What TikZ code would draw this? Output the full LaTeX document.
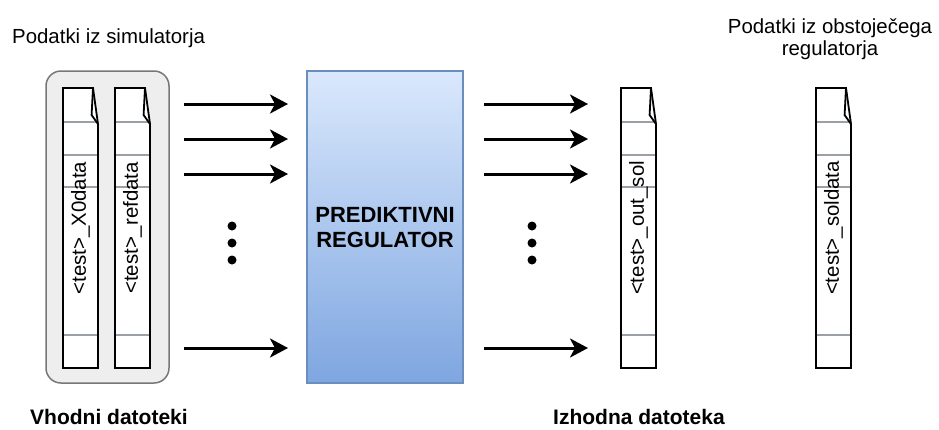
\documentclass[tikz,border=0pt]{standalone}
\usepackage{fontspec}
\setmainfont{Liberation Sans}
\usetikzlibrary{arrows.meta}

\definecolor{grpfill}{HTML}{EEEEEE}
\definecolor{grpline}{HTML}{777777}
\definecolor{regtop}{HTML}{DAE8FC}
\definecolor{regbot}{HTML}{7EA6E0}
\definecolor{regline}{HTML}{6C8EBF}
\definecolor{sepline}{HTML}{9AA0A6}

\tikzset{
  plain/.style={font=\fontsize{20.4}{22}\selectfont, inner sep=0pt},
  heading/.style={font=\bfseries\fontsize{21}{24}\selectfont, inner sep=0pt},
  flow/.style={line width=3pt, -{Stealth[length=18pt,width=19pt,inset=5pt]}},
  dot/.style={circle, fill=black, inner sep=0pt, minimum size=9pt},
  filestroke/.style={draw=black, line width=1.8pt, line join=miter},
  sep/.style={draw=sepline, line width=1.3pt},
  pics/datafile/.style={code={
    % sheet outline with the curled top-right corner
    \fill[white] (0,0) -- (30,0) -- (35,36) -- (35,280) -- (0,280) -- cycle;
    \foreach \yy in {34,67,99,247} \draw[sep] (0,\yy) -- (35,\yy);
    \draw[filestroke] (0,0) -- (30,0) -- (35,36) -- (35,280) -- (0,280) -- cycle;
    \draw[filestroke] (30,0) -- (28.6,27) -- (35,36);
    \node[plain, rotate=90] (lbl) at (17.5,140) {#1};
  }}
}

\begin{document}
\begin{tikzpicture}[x=1pt, y=-1pt]
  \useasboundingbox (0,0) rectangle (939,429);

  % group of input files
  \draw[fill=grpfill, draw=grpline, line width=1.5pt, rounded corners=15pt]
    (46,71) rectangle (169,383);
  \pic (x0) at (63,88) {datafile={<test>\_X0data}};
  \pic (ref) at (115,88) {datafile={<test>\_refdata}};

  % controller block
  \node[draw=regline, line width=1.5pt, top color=regtop, bottom color=regbot,
        minimum width=156pt, minimum height=312pt, inner sep=0pt]
        (reg) at (385,227) {};
  \node[font=\bfseries\fontsize{22}{25}\selectfont, align=center, inner sep=0pt]
        (regtxt) at (385,228) {PREDIKTIVNI\\REGULATOR};

  % output files
  \pic (out) at (621,88) {datafile={<test>\_out\_sol}};
  \pic (sol) at (816,88) {datafile={<test>\_soldata}};

  % arrow end points
  \foreach \i/\yy in {1/104,2/139,3/174,4/348} {
    \coordinate (ia\i) at (184,\yy);
    \coordinate (ib\i) at (288,\yy);
    \coordinate (oa\i) at (484,\yy);
    \coordinate (ob\i) at (588,\yy);
    \draw[flow] (ia\i) -- (ib\i);
    \draw[flow] (oa\i) -- (ob\i);
  }

  % ellipsis dots
  \foreach \i/\yy in {1/226,2/243,3/260} {
    \node[dot] (ld\i) at (232,\yy) {};
    \node[dot] (rd\i) at (532,\yy) {};
  }

  % captions
  \node[plain, anchor=base west] (simtxt) at (12,43) {Podatki iz simulatorja};
  \node[plain, align=center] (oldtxt) at (830,38.7) {Podatki iz obstoječega\\regulatorja};
  \node[heading, anchor=base west] (intxt) at (30,424) {Vhodni datoteki};
  \node[heading, anchor=base west] (outtxt) at (553,424) {Izhodna datoteka};
\end{tikzpicture}
\end{document}
